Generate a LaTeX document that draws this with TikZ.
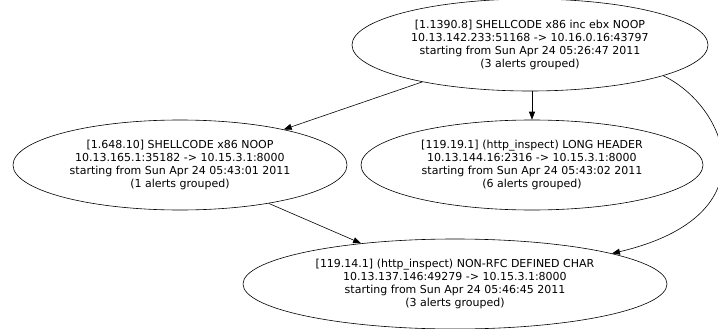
\documentclass[tikz,border=0pt]{standalone}
\usepackage{fontspec}
\setmainfont{DejaVu Sans}
\usetikzlibrary{shapes.geometric,arrows.meta}
\begin{document}
\begin{tikzpicture}[x=1pt,y=-1pt,
  alert/.style={draw, ellipse, inner sep=0pt, align=center,
    font=\fontsize{11}{13}\selectfont, line width=0.6pt},
  edge/.style={draw, line width=0.6pt, -{Triangle[length=8pt,width=6pt]}}]
\useasboundingbox (0,0) rectangle (718,329);
\node[alert, minimum width=356pt, minimum height=92pt] (top) at (530,45)
  {[1.1390.8] SHELLCODE x86 inc ebx NOOP\\10.13.142.233:51168 -> 10.16.0.16:43797\\starting from Sun Apr 24 05:26:47 2011\\(3 alerts grouped)};
\node[alert, minimum width=334pt, minimum height=90pt] (left) at (180,165)
  {[1.648.10] SHELLCODE x86 NOOP\\10.13.165.1:35182 -> 10.15.3.1:8000\\starting from Sun Apr 24 05:43:01 2011\\(1 alerts grouped)};
\node[alert, minimum width=342pt, minimum height=90pt] (mid) at (532,165)
  {[119.19.1] (http\_inspect) LONG HEADER\\10.13.144.16:2316 -> 10.15.3.1:8000\\starting from Sun Apr 24 05:43:02 2011\\(6 alerts grouped)};
\node[alert, minimum width=424pt, minimum height=90pt] (bot) at (455,284)
  {[119.14.1] (http\_inspect) NON-RFC DEFINED CHAR\\10.13.137.146:49279 -> 10.15.3.1:8000\\starting from Sun Apr 24 05:46:45 2011\\(3 alerts grouped)};
\draw[edge] (top) -- (left);
\draw[edge] (top.south -| mid.north) -- (mid.north);
\draw[edge] (left) -- (bot);
\draw[edge] (top.-13.6) .. controls (725,105) and (775,215) .. (bot.11);
\end{tikzpicture}
\end{document}
